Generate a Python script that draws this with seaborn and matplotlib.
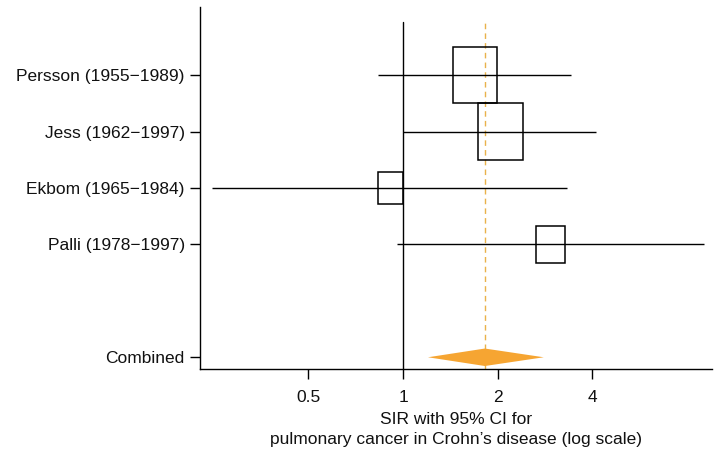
import numpy as np
import pandas as pd
import matplotlib
matplotlib.use('Agg')
import matplotlib.pyplot as plt
from matplotlib.patches import Rectangle
import seaborn as sns

sns.set_theme(style='white')
plt.rcParams['font.family'] = ['Liberation Sans', 'DejaVu Sans']

# study estimates (SIR with 95% CI)
studies = ['Persson (1955\u22121989)', 'Jess (1962\u22121997)',
           'Ekbom (1965\u22121984)', 'Palli (1978\u22121997)']
sir = [1.69, 2.04, 0.91, 2.95]
ci_low = [0.83, 1.00, 0.246, 0.953]
ci_high = [3.41, 4.10, 3.32, 9.05]
weight = [1.0, 1.02, 0.56, 0.65]  # relative box size

combined_label = 'Combined'
combined_sir = 1.82
combined_low = 1.20
combined_high = 2.80

xticks = [0.5, 1, 2, 4]
xtick_labels = ['0.5', '1', '2', '4']

df = pd.DataFrame({'study': studies, 'sir': sir, 'lo': ci_low,
                   'hi': ci_high, 'w': weight})
df['row'] = np.arange(1, len(df) + 1)
comb_row = len(df) + 2

fig = plt.figure(figsize=(7.15, 4.54), dpi=100)
ax = fig.add_axes([0.2797, 0.1866, 0.7161, 0.798])
ax.set_xscale('log', base=2)

# confidence intervals
ax.hlines(df['row'], df['lo'], df['hi'], color='black', lw=1.0, zorder=2)

# boxes (width in log2 units proportional to height)
for _, r in df.iterrows():
    half = 0.235 * r['w']
    x0 = r['sir'] * 2 ** (-half)
    x1 = r['sir'] * 2 ** half
    ax.add_patch(Rectangle((x0, r['row'] - r['w'] / 2), x1 - x0, r['w'],
                           facecolor='none', edgecolor='black', lw=1.1, zorder=3))

# pooled estimate diamond
ax.fill([combined_low, combined_sir, combined_high, combined_sir],
        [comb_row, comb_row - 0.155, comb_row, comb_row + 0.155],
        color='#F6A532', lw=0, zorder=3)

# reference lines
ax.axvline(1, ymin=0, ymax=0.9586, color='black', lw=1.0, zorder=1)
ax.axvline(combined_sir, ymin=0, ymax=0.9586, color='#E9B24A',
           lw=1.0, ls=(0, (4, 3)), zorder=1)

txt = '#111111'
fs = 12.5
ax.set_xlim(0.226, 9.6)
ax.set_ylim(comb_row + 0.213, 1 - 1.211)
ax.set_yticks(list(df['row']) + [comb_row])
ax.set_yticklabels(studies + [combined_label], fontsize=fs, color=txt)
ax.set_xticks(xticks)
ax.set_xticklabels(xtick_labels, fontsize=fs, color=txt)
ax.minorticks_off()
ax.tick_params(axis='both', direction='out', length=7, width=1,
               color='black', bottom=True, left=True)
ax.tick_params(axis='x', pad=8)
ax.tick_params(axis='y', pad=4)
ax.set_xlabel('SIR with 95% CI for\npulmonary cancer in Crohn\u2019s disease (log scale)',
              fontsize=fs, color=txt, labelpad=5, linespacing=1.45)
ax.set_ylabel('')
ax.grid(False)
sns.despine(ax=ax)
for s in ['left', 'bottom']:
    ax.spines[s].set_color('black')
    ax.spines[s].set_linewidth(1.0)

fig.savefig('out.png', dpi=100)
plt.close(fig)
